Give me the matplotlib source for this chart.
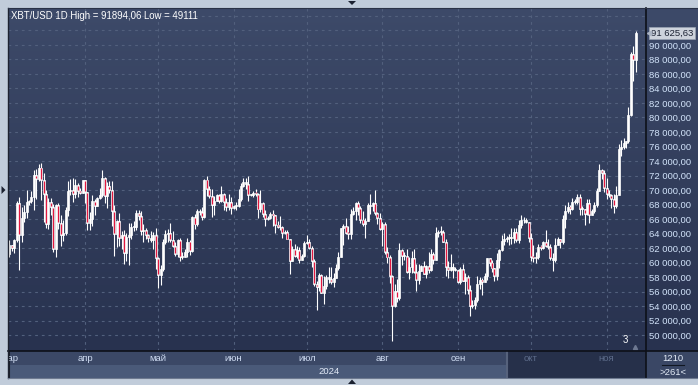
import matplotlib
matplotlib.use("Agg")
import matplotlib.pyplot as plt
import numpy as np
from matplotlib import transforms
from matplotlib.patches import Polygon, Rectangle

plt.rcParams['font.family'] = ['Liberation Sans', 'DejaVu Sans']

# ---------------- data (XBT/USD daily, 1 Mar 2024 .. 13 Nov 2024) ----------------
opens = [
 61130,62390,62040,63130,68270,63780,66100,66900,68300,68500,69000,72100,71460,73100,71400,69400,65300,68400,67600,61900,67900,65500,63800,64100,67200,69900,69990,69450,70740,69890,69650,
 71330,69700,65500,65950,68500,67850,68900,69360,71620,69150,70600,70000,67100,63900,65700,63400,63800,61300,63500,63850,64950,64950,66850,66400,64300,64500,63750,63400,63100,63850,
 60650,58250,59100,62900,63900,64030,63160,62330,61190,63050,60790,60820,61480,62900,61550,66250,65250,67050,66940,66270,71450,70140,69120,67950,68550,69290,68500,69390,68350,67630,68350,
 67490,67750,67770,68800,70560,71080,70790,69350,69310,69650,69500,67320,68240,66750,66010,66190,66640,66490,65160,64960,64840,64100,64250,63180,60280,61800,60860,61670,60320,60900,
 62680,62800,62040,60180,57060,56650,58240,55850,56700,58040,57700,57330,57900,59200,60800,64700,65070,64080,63980,66690,67150,68150,67560,65930,65370,65780,67900,67800,68250,66780,66190,
 64620,65350,61500,60700,58120,54020,56030,55130,61710,60880,60940,58710,59350,60600,58740,57560,58880,59480,58430,59490,59010,61160,60380,64080,64160,64220,62830,59420,59030,59370,59120,
 58970,57300,59130,57480,57970,56160,53960,54150,54840,57020,57640,57340,58130,60570,60000,59180,58210,60310,61760,62950,63200,63350,63580,63340,64260,63150,65180,65800,65880,65600,
 63330,60800,60650,60750,62080,62060,62800,62240,62150,60600,60300,62400,63200,62850,66050,67040,67650,67400,68400,68360,69000,67370,67380,66650,68170,66600,67040,67940,69900,72700,72330,
 70250,69500,69300,68750,67800,69350,75600,75900,76550,76700,80400,88700,87950,
]
highs = [
 63150,62450,63200,68500,69000,67600,67900,70000,68600,69900,72800,72900,73600,73780,72400,70000,68900,68900,68100,68100,68200,66600,65900,67600,71200,71500,71700,71500,70900,70300,71400,
 71330,69700,66900,69300,68700,69000,70300,72700,71750,71100,71200,71200,67900,65800,66800,64400,64500,64100,65400,65400,65700,67200,67200,67100,65300,64800,63900,64300,64200,64700,
 60800,59600,63300,64500,64600,65500,64400,62900,63300,63400,61500,61800,63400,63100,66400,66700,67400,67400,67600,71500,71950,70600,70100,69200,69500,69500,70600,69600,68900,69500,69000,
 67900,68400,70200,71000,71700,71600,71950,69500,69900,70100,69600,70000,68400,67300,66400,66900,67200,66500,65700,66400,65000,64500,64500,63300,62300,62500,62300,62200,61200,63000,
 63800,63200,62300,60500,57500,58500,58400,58200,58300,59400,59450,58500,59800,61400,64800,65300,66100,65100,67400,67600,68300,68500,67800,67100,66100,68200,69400,68300,70000,66900,66800,
 65600,65600,62100,61100,58300,57000,57700,62700,61800,61500,61800,60700,61600,61800,59800,59800,59600,60200,59600,61400,61800,61400,64900,64500,64990,64500,63200,60200,61200,59900,59400,
 59000,59400,59800,58500,58300,56900,54800,55300,58100,58000,57900,58600,60600,60600,60400,59200,61300,61800,63850,64100,63600,64000,64750,64800,64800,65800,66500,66300,66100,65600,
 64100,62400,61400,62500,62400,63000,64450,63200,62500,61300,63400,63500,63300,66500,67900,68400,67900,68900,68700,69400,69500,67800,67400,68800,68800,67400,68300,70300,73600,72900,72700,
 71600,70000,69400,69500,70500,76400,76900,77200,76800,81500,89000,89900,91894,
]
lows = [
 60800,61600,61300,62900,59000,62800,65600,66100,67900,68200,67200,68800,71200,68600,65600,64800,64600,66600,61500,60800,64600,62300,63000,63800,66400,69300,68400,68900,69100,69500,69600,
 68200,64500,64500,65100,66600,67800,68800,69100,68200,67500,69600,65100,60900,62200,62300,61800,59800,60200,59600,63200,64300,64500,65900,63800,62800,63300,62800,62800,61800,59100,
 56550,56900,58800,62600,62900,62800,62200,60900,60700,60200,60500,60700,60800,61100,61400,64600,65100,66600,65900,66100,69200,68900,66300,66600,68500,68200,68300,67300,67100,67200,66700,
 67400,67300,67600,68500,70400,70100,68500,69200,69100,69200,66100,66900,66300,65100,65900,66000,65100,64100,64700,64500,63400,63900,63200,58400,60200,60700,60600,60000,60300,60700,
 62500,61800,59400,56800,53500,56100,55800,54300,56300,57200,57100,56600,57800,59000,60700,62400,63900,63300,63300,66500,65800,66600,65500,65100,63400,65700,66700,67100,66600,65300,64500,
 62300,61200,59900,57200,49111,53900,54600,54800,59600,60300,58500,57700,58500,58500,56100,57100,58800,58400,57800,58600,58800,59800,60300,63500,63800,62800,58100,57850,58800,57800,58800,
 57200,57100,57400,55600,55700,52600,53700,53600,54600,56400,55550,57300,57600,59500,58700,57500,57600,59200,61600,62400,62800,62400,62600,62700,62900,62700,64800,65400,65400,62900,
 60200,60100,59900,60500,61700,61900,62200,61900,60300,58900,60100,62400,62000,62500,64800,66800,66700,67200,68100,68100,66600,66600,65200,66500,65500,66500,66800,67600,69800,71500,69700,
 68800,69000,67500,66800,67500,69300,74700,75600,75800,76500,80200,85100,86300,
]
closes = [
 62390,62040,63130,68270,63780,66100,66900,68300,68500,69000,72100,71460,73100,71400,69400,65300,68400,67600,61900,67900,65500,63800,64100,67200,69900,69990,69450,70740,69890,69650,71330,
 69700,65500,65950,68500,67850,68900,69360,71620,69150,70600,70000,67100,63900,65700,63400,63800,61300,63500,63850,64950,64950,66850,66400,64300,64500,63750,63400,63100,63850,60650,
 58250,59100,62900,63900,64030,63160,62330,61190,63050,60790,60820,61480,62900,61550,66250,65250,67050,66940,66270,71450,70140,69120,67950,68550,69290,68500,69390,68350,67630,68350,67490,
 67750,67770,68800,70560,71080,70790,69350,69310,69650,69500,67320,68240,66750,66010,66190,66640,66490,65160,64960,64840,64100,64250,63180,60280,61800,60860,61670,60320,60900,62680,
 62800,62040,60180,57060,56650,58240,55850,56700,58040,57700,57330,57900,59200,60800,64700,65070,64080,63980,66690,67150,68150,67560,65930,65370,65780,67900,67800,68250,66780,66190,64620,
 65350,61500,60700,58120,54020,56030,55130,61710,60880,60940,58710,59350,60600,58740,57560,58880,59480,58430,59490,59010,61160,60380,64080,64160,64220,62830,59420,59030,59370,59120,58970,
 57300,59130,57480,57970,56160,53960,54150,54840,57020,57640,57340,58130,60570,60000,59180,58210,60310,61760,62950,63200,63350,63580,63340,64260,63150,65180,65800,65880,65600,63330,
 60800,60650,60750,62080,62060,62800,62240,62150,60600,60300,62400,63200,62850,66050,67040,67650,67400,68400,68360,69000,67370,67380,66650,68170,66600,67040,67940,69900,72700,72330,70250,
 69500,69300,68750,67800,69350,75600,75900,76550,76700,80400,88700,87950,91625,
]
month_labels = ["мар", "апр", "май", "июн", "июл", "авг", "сен", "окт", "ноя"]
month_days = [31, 30, 31, 30, 31, 31, 30, 31, 13]
year_label = "2024"
price_ticks = list(range(50000, 90001, 2000))
last_price = 91625.63
title = "XBT/USD 1D High = 91894,06 Low = 49111"

# ---------------- layout helpers ----------------
W, H = 698, 385
fig = plt.figure(figsize=(W / 100, H / 100), dpi=100, facecolor="#c1ccda")

def box(x0, y0, x1, y1):
    return [x0 / W, 1 - y1 / H, (x1 - x0) / W, (y1 - y0) / H]

# gradient background (plot + right scale)
bg = fig.add_axes(box(8, 8, 698, 351))
bg.set_axis_off()
top_c = np.array([0x3d, 0x4a, 0x69]) / 255
bot_c = np.array([0x28, 0x32, 0x4f]) / 255
t = np.linspace(0, 1, 256)[:, None]
grad = (top_c[None, :] * (1 - t) + bot_c[None, :] * t)[:, None, :]
bg.imshow(grad, aspect="auto", extent=[0, 1, 0, 1], origin="upper")
bg.set_xlim(0, 1); bg.set_ylim(0, 1)

n = len(closes)
xs = np.arange(n)
o = np.array(opens, float); h = np.array(highs, float)
l = np.array(lows, float); c = np.array(closes, float)

ax = fig.add_axes(box(8, 8, 646, 351))
ax.set_facecolor("none")
xlim = (-0.6, 261.2)
ax.set_xlim(*xlim)
ax.set_ylim(47800, 95100)
for s in ax.spines.values():
    s.set_visible(False)

# month start positions
starts = np.concatenate([[0], np.cumsum(month_days)[:-1]])

# grid
grid_col = "#52607d"
for p in price_ticks + [92000, 94000]:
    ax.axhline(p, color=grid_col, lw=0.8, ls=(0, (2.5, 3.5)), zorder=1)
for s in starts[1:]:
    ax.axvline(s, color=grid_col, lw=0.8, ls=(0, (2.5, 3.5)), zorder=1)

# candles
ax.vlines(xs, l, h, color="white", lw=0.8, zorder=3)
bottoms = np.minimum(o, c)
heights = np.maximum(np.abs(c - o), 120)
ax.bar(xs, heights, bottom=bottoms, width=0.82, color="white",
       edgecolor="white", linewidth=0.5, zorder=4)
down = c < o
d = 130
ax.vlines(xs[down], c[down] + d, np.maximum(o[down] - d, c[down] + d + 60),
          color="#e3173f", lw=0.9, zorder=5)

# right price scale
ax.yaxis.tick_right()
ax.set_yticks(price_ticks)
ax.set_yticklabels([f"{p:,.2f}".replace(",", " ").replace(".", ",") for p in price_ticks])
ax.tick_params(axis="y", length=0, pad=2.5, labelsize=6.8, labelcolor="#d3e4fb")
ax.set_xticks([])

# last price tag
tr = transforms.blended_transform_factory(ax.transAxes, ax.transData)
ax.text(1.008, last_price, f"{last_price:,.2f}".replace(",", " ").replace(".", ","),
        transform=tr, ha="left", va="center", fontsize=6.8, color="#1b2233",
        bbox=dict(boxstyle="square,pad=0.18", fc="#cdd3dc", ec="#9aa4b4", lw=0.5),
        clip_on=False, zorder=10)
ax.plot([1.004], [last_price], marker="<", ms=3, color="#aab3c2", transform=tr,
        clip_on=False, zorder=11)

# title
ax.text(0.004, 0.977, title, transform=ax.transAxes, ha="left", va="center",
        fontsize=6.9, color="white", zorder=10)

# "3" marker
ax.text(0.968, 0.018, "3", transform=ax.transAxes, ha="center", va="bottom",
        fontsize=6.9, color="white", zorder=10)
ax.plot([0.982], [0.012], marker="^", ms=3, color="#6d7891", transform=ax.transAxes,
        clip_on=False, zorder=10)

# ---------------- bottom time strip ----------------
bx = fig.add_axes(box(8, 351, 646, 378))
bx.set_xlim(*xlim); bx.set_ylim(0, 1)
bx.set_axis_off()
bx.add_patch(Rectangle((0, 0.5), 1, 0.5, transform=bx.transAxes, fc="#3b4866", ec="none"))
bx.add_patch(Rectangle((0, 0), 1, 0.5, transform=bx.transAxes, fc="#4a5a79", ec="none"))
dark_start = (507 - 8) / 638
bx.add_patch(Rectangle((dark_start, 0), 1 - dark_start, 1, transform=bx.transAxes,
                       fc="#26304a", ec="none", zorder=2))
bx.axvline(0, color="#1a1f2b", lw=1.5)
bx.plot([dark_start, dark_start], [0, 1], color="#56627c", lw=1.5,
        transform=bx.transAxes, zorder=3)
dark_x = xlim[0] + dark_start * (xlim[1] - xlim[0])
for lab, s in zip(month_labels, starts):
    col = "#5d6c8a" if s > dark_x else "#cfdcf2"
    bx.text(s, 0.73, lab, ha="center", va="center", fontsize=6.8, color=col,
            zorder=4, clip_on=True)
bx.text(0.503, 0.25, year_label, transform=bx.transAxes, ha="center", va="center",
        fontsize=6.8, color="#e1e9f6", zorder=4)

# bottom-right box
rb = fig.add_axes(box(646, 351, 698, 378))
rb.set_xlim(0, 1); rb.set_ylim(0, 1)
rb.set_axis_off()
rb.add_patch(Rectangle((0, 0), 1, 1, transform=rb.transAxes, fc="#3a4765", ec="none"))
rb.text(0.52, 0.74, "1210", ha="center", va="center", fontsize=6.8, color="#e4ecf8")
rb.plot([0.3, 0.74], [0.47, 0.47], color="#111722", lw=0.8)
rb.text(0.52, 0.22, ">261<", ha="center", va="center", fontsize=6.8, color="#e4ecf8")

# separators
ov = fig.add_axes([0, 0, 1, 1])
ov.set_xlim(0, W); ov.set_ylim(H, 0)
ov.set_axis_off()
ov.patch.set_alpha(0)
ov.plot([8, 698], [351, 351], color="#0d1018", lw=1.2)
ov.plot([646, 646], [8, 378], color="#0d1018", lw=1.2)
ov.plot([7.5, 7.5], [8, 378], color="#1d2230", lw=1.0)
ov.plot([8, 698], [8, 8], color="#2a3246", lw=0.8)
ov.plot([8, 698], [378, 378], color="#6e7a90", lw=0.8)
# small arrows in frame
ov.add_patch(Polygon([[348, 1], [356, 1], [352, 5]], closed=True, fc="#1b2130", ec="none"))
ov.add_patch(Polygon([[348, 384], [356, 384], [352, 379.5]], closed=True, fc="#1b2130", ec="none"))
ov.add_patch(Polygon([[1.5, 186], [1.5, 194], [5.5, 190]], closed=True, fc="#1b2130", ec="none"))

fig.savefig("out.png", dpi=100, facecolor=fig.get_facecolor())
